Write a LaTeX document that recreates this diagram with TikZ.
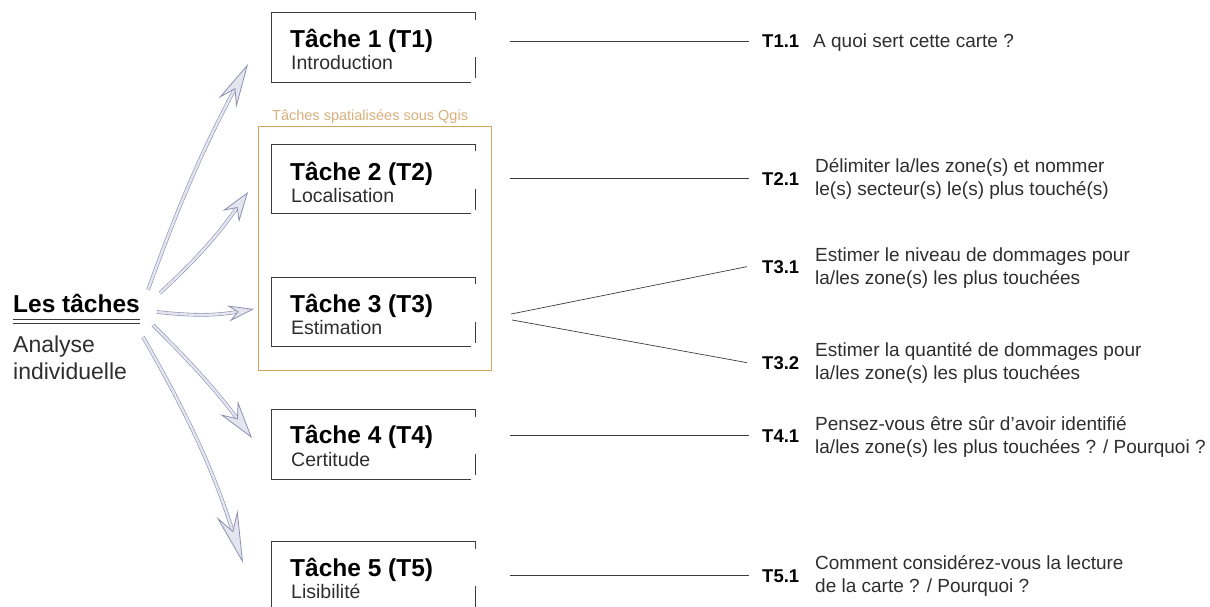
\documentclass[tikz,border=0pt]{standalone}
\usepackage{fontspec}
\setmainfont{Liberation Sans}
\usetikzlibrary{arrows.meta}
\definecolor{ink}{HTML}{3C3C3C}
\definecolor{qgis}{HTML}{D6A25C}
\definecolor{qgistext}{HTML}{D9AF7A}
\definecolor{arr}{HTML}{8C90B2}
\definecolor{arrfill}{HTML}{E4E5EE}
\definecolor{txt}{HTML}{2E2E2E}
\newcommand\sketchbox[1]{%
  \draw[sketch] ([yshift=-7pt]#1.north east) -- (#1.north east) -- (#1.north west) -- (#1.south west) -- ([xshift=-4pt]#1.south east);
  \draw[sketch] ([yshift=4pt]#1.south east) -- ([yshift=25pt]#1.south east);}
\begin{document}
\begin{tikzpicture}[x=1pt,y=-1pt,
  taskbox/.style={minimum width=203pt,minimum height=69pt,inner sep=0pt},
  grpbox/.style={draw=qgis,line width=1pt,minimum width=233pt,minimum height=243pt,inner sep=0pt},
  sketch/.style={draw=ink,line width=0.8pt},
  ttl/.style={anchor=base west,inner sep=0pt,font=\fontsize{24.5}{28}\selectfont\bfseries,text=black},
  sub/.style={anchor=base west,inner sep=0pt,font=\fontsize{19.5}{22}\selectfont,text=txt},
  lab/.style={anchor=base west,inner sep=0pt,font=\fontsize{18.5}{22}\selectfont\bfseries,text=black},
  desc/.style={anchor=base west,inner sep=0pt,font=\fontsize{19}{22}\selectfont,text=txt},
  conn/.style={draw=ink,line width=0.7pt},
  bigarrow/.style 2 args={draw=arr,line width=0.6pt,double=arrfill,double distance=2.4pt,
    -{Stealth[length=#1,width=#2,inset=0.35*#1,color=arr,fill=arrfill,line width=0.8pt]}}
]
\useasboundingbox (0,0) rectangle (1210,607);

% left title
\node[anchor=base west,inner sep=0pt,font=\fontsize{24.5}{28}\selectfont\bfseries] (les) at (13,312) {Les tâches};
\draw[ink,line width=0.8pt] (13,319) -- (140,319);
\draw[ink,line width=0.8pt] (13,323) -- (140,323);
\node[anchor=base west,inner sep=0pt,font=\fontsize{23}{28}\selectfont,text=txt] (an1) at (13,352) {Analyse};
\node[anchor=base west,inner sep=0pt,font=\fontsize{23}{28}\selectfont,text=txt] (an2) at (13,379) {individuelle};

% group frame
\node[grpbox] (grp) at (374.5,248.5) {};
\node[anchor=base west,inner sep=0pt,font=\fontsize{14.5}{17}\selectfont,text=qgistext] (grplab) at (272,121) {Tâches spatialisées sous Qgis};

% task boxes
\node[taskbox] (t1) at (373.5,47.5) {};
\node[taskbox] (t2) at (373.5,179) {};
\node[taskbox] (t3) at (373.5,312) {};
\node[taskbox] (t4) at (373.5,444.5) {};
\node[taskbox] (t5) at (373.5,576.5) {};
\sketchbox{t1}\sketchbox{t2}\sketchbox{t3}\sketchbox{t4}\sketchbox{t5}

\node[ttl] (t1a) at (290,48) {Tâche 1 (T1)};
\node[sub] (t1b) at (291,70) {Introduction};
\node[ttl] (t2a) at (290,180) {Tâche 2 (T2)};
\node[sub] (t2b) at (291,202) {Localisation};
\node[ttl] (t3a) at (290,312) {Tâche 3 (T3)};
\node[sub] (t3b) at (291,334) {Estimation};
\node[ttl] (t4a) at (290,443) {Tâche 4 (T4)};
\node[sub] (t4b) at (291,466) {Certitude};
\node[ttl] (t5a) at (290,576) {Tâche 5 (T5)};
\node[sub] (t5b) at (291,598) {Lisibilité};

% arrows
\coordinate (s1) at (148,290); \coordinate (e1) at (248,64);
\coordinate (s2) at (160,293); \coordinate (e2) at (248,192);
\coordinate (s3) at (157,312); \coordinate (e3) at (254,309);
\coordinate (s4) at (153,325); \coordinate (e4) at (252,438);
\coordinate (s5) at (143,337); \coordinate (e5) at (243,563);
\draw[bigarrow={44pt}{20pt}] (s1) to[bend left=4] (e1);
\draw[bigarrow={30pt}{20pt}] (s2) to[bend right=6] (e2);
\draw[bigarrow={26pt}{16pt}] (s3) to[bend right=8] (e3);
\draw[bigarrow={38pt}{22pt}] (s4) to[bend left=4] (e4);
\draw[bigarrow={52pt}{22pt}] (s5) to[bend left=6] (e5);

% question labels
\node[lab] (l11) at (762,48) {T1.1};
\node[desc] (d11) at (813,48) {A quoi sert cette carte ?};
\node[lab] (l21) at (762,185) {T2.1};
\node[desc] (d21a) at (815,172) {Délimiter la/les zone(s) et nommer};
\node[desc] (d21b) at (815,195) {le(s) secteur(s) le(s) plus touché(s)};
\node[lab] (l31) at (762,273) {T3.1};
\node[desc] (d31a) at (815,261) {Estimer le niveau de dommages pour};
\node[desc] (d31b) at (815,284) {la/les zone(s) les plus touchées};
\node[lab] (l32) at (762,369) {T3.2};
\node[desc] (d32a) at (815,356) {Estimer la quantité de dommages pour};
\node[desc] (d32b) at (815,379) {la/les zone(s) les plus touchées};
\node[lab] (l41) at (762,442) {T4.1};
\node[desc] (d41a) at (815,430) {Pensez-vous être sûr d’avoir identifié};
\node[desc] (d41b) at (815,453) {la/les zone(s) les plus touchées ? / Pourquoi ?};
\node[lab] (l51) at (762,582) {T5.1};
\node[desc] (d51a) at (815,569) {Comment considérez-vous la lecture};
\node[desc] (d51b) at (815,592) {de la carte ? / Pourquoi ?};

% connectors
\draw[conn] ([xshift=35pt]t1.east |- l11.west) -- ([xshift=-13pt]l11.west);
\draw[conn] ([xshift=35pt]t2.east |- l21.west) -- ([xshift=-13pt]l21.west);
\draw[conn] ([xshift=36pt,yshift=-2pt]t3.east) -- ([xshift=-15pt]l31.west);
\draw[conn] ([xshift=37pt,yshift=-8pt]t3.east) -- ([xshift=-15pt]l32.west);
\draw[conn] ([xshift=35pt]t4.east |- l41.west) -- ([xshift=-13pt]l41.west);
\draw[conn] ([xshift=35pt]t5.east |- l51.west) -- ([xshift=-13pt]l51.west);
\end{tikzpicture}
\end{document}
